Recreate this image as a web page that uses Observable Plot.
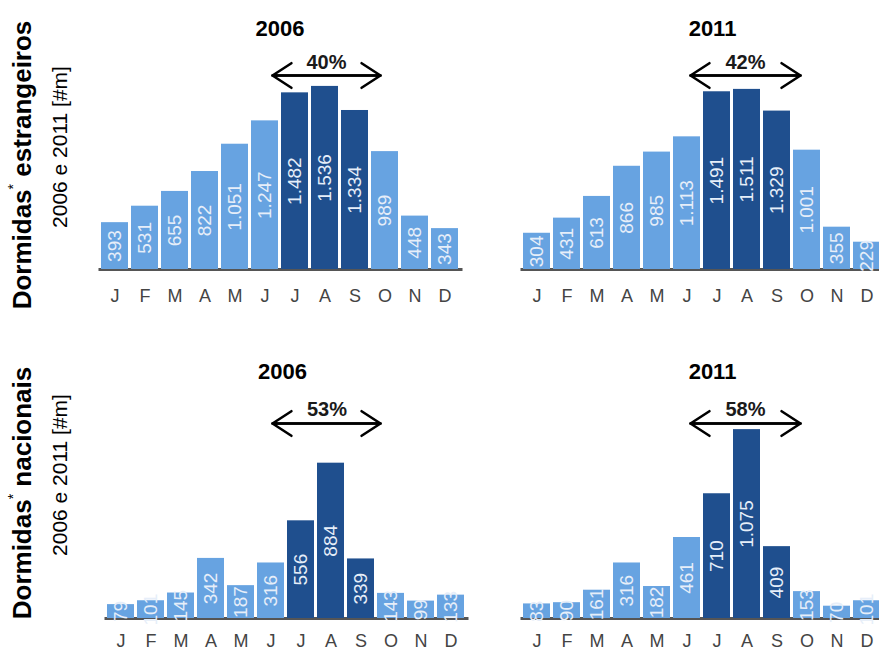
<!DOCTYPE html>
<html><head><meta charset="utf-8">
<script src="https://cdn.jsdelivr.net/npm/d3@7"></script>
<script src="https://cdn.jsdelivr.net/npm/@observablehq/plot@0.6"></script>
<style>
body{margin:0;overflow:hidden;background:#fff;font-family:"Liberation Sans",Arial,sans-serif;}
#wrap{position:relative;width:879px;height:653px;overflow:hidden;background:#fff;}
.panel{position:absolute;}
.rowlab{position:absolute;transform:translate(-50%,-50%) rotate(-90deg);white-space:nowrap;color:#000;line-height:1;}
.t{font-weight:bold;font-size:26px;}
.t sup{font-size:14px;font-weight:normal;vertical-align:top;position:relative;top:-3px;}
.s{font-size:21px;}
</style></head><body><div id="wrap"></div>
<script>
const months = ["J","F","M","A","M","J","J","A","S","O","N","D"];
const monthIndex = [0,1,2,3,4,5,6,7,8,9,10,11];
const peakMonths = [6,7,8];
const estrangeiros2006 = [393,531,655,822,1051,1247,1482,1536,1334,989,448,343];
const estrangeiros2011 = [304,431,613,866,985,1113,1491,1511,1329,1001,355,229];
const nacionais2006 = [79,101,145,342,187,316,556,884,339,143,99,133];
const nacionais2011 = [83,90,161,316,182,461,710,1075,409,153,70,101];
const years = ["2006","2011"];
const shareEstrangeiros = ["40%","42%"];
const shareNacionais = ["53%","58%"];
const rowTitles = ["Dormidas", "estrangeiros", "nacionais"];
const rowSubtitle = "2006 e 2011 [#m]";

const fmt = d3.formatLocale({decimal:",", thousands:".", grouping:[3], currency:["",""]}).format(",d");
const lightBlue = "#67a3e1", darkBlue = "#1f4f8e";
const FONT = "'Liberation Sans', Arial, sans-serif";

function panel(o) {
  const frameH = o.height - o.marginBottom;
  const yMax = frameH / o.pxPerUnit;
  const yAt = dy => (frameH - dy) / o.pxPerUnit;
  const data = o.values.map((v, i) => ({i, v, peak: peakMonths.includes(i)}));
  const ay = yAt(o.arrowDy);
  const plot = Plot.plot({
    width: o.width, height: o.height,
    marginLeft: o.marginLeft, marginRight: o.width - o.marginLeft - 360,
    marginTop: 0, marginBottom: o.marginBottom,
    style: {fontFamily: FONT, background: "transparent", overflow: "visible"},
    x: {domain: monthIndex, padding: 0.1, paddingOuter: 0.05, axis: null, label: null},
    y: {domain: [0, yMax], axis: null, label: null},
    marks: [
      Plot.ruleY([0], {stroke: "#555", strokeWidth: 3, insetLeft: -1, insetRight: -3}),
      Plot.barY(data, {x: "i", y: "v", fill: d => d.peak ? darkBlue : lightBlue}),
      Plot.text(data, {x: "i", y: d => d.v / 2, text: d => fmt(d.v), rotate: -90,
        fill: "#e6eef9", fontSize: 19, fontFamily: FONT}),
      Plot.axisX({tickSize: 0, tickPadding: o.tickPadding, tickFormat: i => months[i],
        fontSize: 18, fill: "#444", fontFamily: FONT}),
      Plot.text([o.year], {frameAnchor: "top", lineAnchor: "middle", dy: o.titleDy, dx: o.titleDx,
        fontSize: 22, fontWeight: "bold", fill: "#000", fontFamily: FONT}),
      Plot.text([o.share], {x: () => 7, frameAnchor: "top", lineAnchor: "middle", dy: o.shareDy, dx: o.shareDx,
        fontSize: 20, fontWeight: "bold", fill: "#1a1a1a", fontFamily: FONT}),
      Plot.arrow([0], {x1: () => 9, x2: () => 5, y1: () => ay, y2: () => ay,
        insetStart: o.insetRight, insetEnd: o.insetLeft, stroke: "#000", strokeWidth: 2.6,
        headLength: 13, headAngle: 66}),
      Plot.arrow([0], {x1: () => 5, x2: () => 9, y1: () => ay, y2: () => ay,
        insetStart: o.insetLeft, insetEnd: o.insetRight, stroke: "#000", strokeWidth: 2.6,
        headLength: 13, headAngle: 66})
    ]
  });
  plot.classList.add("panel");
  plot.style.left = o.left + "px";
  plot.style.top = o.top + "px";
  document.getElementById("wrap").appendChild(plot);
}

const topCfg = {top: 0, height: 330, marginBottom: 61, pxPerUnit: 0.1192, titleDy: 28, shareDy: 62, arrowDy: 75, tickPadding: 20};
const botCfg = {top: 330, height: 323, marginBottom: 35, pxPerUnit: 0.1757, titleDy: 41, shareDy: 79, arrowDy: 93, tickPadding: 16};

panel({...topCfg, values: estrangeiros2006, year: years[0], share: shareEstrangeiros[0],
  left: 90, width: 380, marginLeft: 9.5, titleDx: 0, shareDx: 1.5, insetLeft: 7.5, insetRight: 4.5});
panel({...topCfg, values: estrangeiros2011, year: years[1], share: shareEstrangeiros[1],
  left: 510, width: 380, marginLeft: 11.5, titleDx: 10.5, shareDx: -1.5, insetLeft: 3.5, insetRight: 6.5});
panel({...botCfg, values: nacionais2006, year: years[0], share: shareNacionais[0],
  left: 96, width: 380, marginLeft: 9.5, titleDx: -3.5, shareDx: -4, insetLeft: 1.5, insetRight: 10.5});
panel({...botCfg, values: nacionais2011, year: years[1], share: shareNacionais[1],
  left: 510, width: 380, marginLeft: 11.5, titleDx: 10.5, shareDx: -1.5, insetLeft: 3.5, insetRight: 6.5});

function rowLabel(html, cls, x, y) {
  const d = document.createElement("div");
  d.className = "rowlab " + cls;
  d.innerHTML = html;
  d.style.left = x + "px";
  d.style.top = y + "px";
  document.getElementById("wrap").appendChild(d);
}
rowLabel(rowTitles[0] + "<sup>*</sup> " + rowTitles[1], "t", 22, 165);
rowLabel(rowSubtitle, "s", 59, 147);
rowLabel(rowTitles[0] + "<sup>*</sup> " + rowTitles[2], "t", 22, 493);
rowLabel(rowSubtitle, "s", 59, 475);
</script></body></html>
